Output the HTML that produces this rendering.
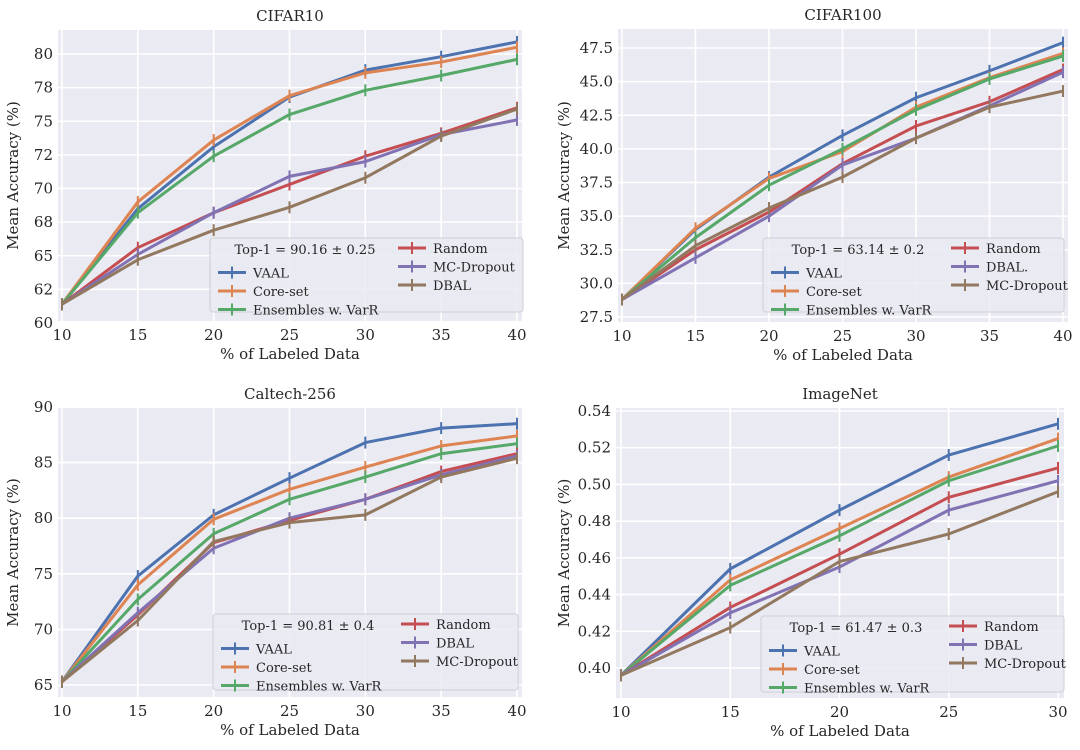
<!DOCTYPE html>
<html><head><meta charset="utf-8">
<style>
html,body{margin:0;padding:0;background:#fff;width:1080px;height:750px;overflow:hidden}
svg{display:block;font-family:"DejaVu Serif","Liberation Serif",serif}
</style></head>
<body>
<svg id="fig" width="1080" height="750" viewBox="0 0 1080 750" xmlns="http://www.w3.org/2000/svg"></svg>
<script>
const seriesColors = ["#4c72b0","#dd8452","#55a868","#c44e52","#8172b3","#937860"];
// CIFAR10
const cifar10X = [10,15,20,25,30,35,40];
const cifar10Names = ["VAAL","Core-set","Ensembles w. VarR","Random","MC-Dropout","DBAL"];
const cifar10VAAL = [61.4,68.5,73.1,76.8,78.8,79.8,80.9];
const cifar10Core = [61.4,69.0,73.6,76.9,78.6,79.4,80.5];
const cifar10Ens = [61.4,68.2,72.4,75.5,77.3,78.4,79.6];
const cifar10Random = [61.4,65.6,68.2,70.3,72.4,74.1,76.0];
const cifar10MC = [61.4,65.1,68.2,70.9,72.0,74.0,75.1];
const cifar10DBAL = [61.4,64.7,66.9,68.6,70.8,73.9,75.9];
const cifar10YTicks = [60,62.5,65,67.5,70,72.5,75,77.5,80];
const cifar10YLabels = ["60","62","65","68","70","72","75","78","80"];
// CIFAR100
const cifar100X = [10,15,20,25,30,35,40];
const cifar100Names = ["VAAL","Core-set","Ensembles w. VarR","Random","DBAL.","MC-Dropout"];
const cifar100VAAL = [28.8,34.0,37.9,41.0,43.8,45.8,47.9];
const cifar100Core = [28.8,34.1,37.8,39.8,43.1,45.3,47.1];
const cifar100Ens = [28.8,33.4,37.3,40.0,42.9,45.2,46.9];
const cifar100Random = [28.8,32.5,35.3,38.9,41.7,43.5,45.9];
const cifar100DBAL = [28.8,31.9,35.0,38.8,40.8,43.2,45.7];
const cifar100MC = [28.8,32.8,35.6,37.9,40.8,43.1,44.3];
const cifar100YTicks = [27.5,30,32.5,35,37.5,40,42.5,45,47.5];
const cifar100YLabels = ["27.5","30.0","32.5","35.0","37.5","40.0","42.5","45.0","47.5"];
// Caltech-256
const caltechX = [10,15,20,25,30,35,40];
const caltechNames = ["VAAL","Core-set","Ensembles w. VarR","Random","DBAL","MC-Dropout"];
const caltechVAAL = [65.3,74.8,80.3,83.6,86.8,88.1,88.5];
const caltechCore = [65.3,74.0,79.9,82.6,84.6,86.5,87.4];
const caltechEns = [65.3,72.7,78.6,81.7,83.7,85.8,86.7];
const caltechRandom = [65.3,71.3,77.8,79.8,81.7,84.2,85.8];
const caltechDBAL = [65.3,71.5,77.3,80.0,81.7,83.9,85.6];
const caltechMC = [65.3,70.8,77.9,79.6,80.3,83.7,85.4];
const caltechYTicks = [65,70,75,80,85,90];
const caltechYLabels = ["65","70","75","80","85","90"];
// ImageNet
const imagenetX = [10,15,20,25,30];
const imagenetNames = ["VAAL","Core-set","Ensembles w. VarR","Random","DBAL","MC-Dropout"];
const imagenetVAAL = [0.396,0.454,0.486,0.516,0.533];
const imagenetCore = [0.396,0.448,0.476,0.504,0.525];
const imagenetEns = [0.396,0.445,0.472,0.502,0.521];
const imagenetRandom = [0.396,0.433,0.462,0.493,0.509];
const imagenetDBAL = [0.396,0.430,0.455,0.486,0.502];
const imagenetMC = [0.396,0.422,0.458,0.473,0.496];
const imagenetYTicks = [0.40,0.42,0.44,0.46,0.48,0.50,0.52,0.54];
const imagenetYLabels = ["0.40","0.42","0.44","0.46","0.48","0.50","0.52","0.54"];

const NS="http://www.w3.org/2000/svg";
const fig=document.getElementById('fig');
function mk(tag,attrs,parent){const e=document.createElementNS(NS,tag);for(const k in attrs)e.setAttribute(k,attrs[k]);(parent||fig).appendChild(e);return e;}

function panel(cfg){
  const g=mk('g',{});
  
  
  const sx=v=>cfg.xa[1]+(v-cfg.xa[0])*(cfg.xb[1]-cfg.xa[1])/(cfg.xb[0]-cfg.xa[0]);
  const sy=v=>cfg.ya[1]+(v-cfg.ya[0])*(cfg.yb[1]-cfg.ya[1])/(cfg.yb[0]-cfg.ya[0]);
  const [L,R,T,B]=cfg.rect;
  const bg=mk('rect',{x:L,y:T,width:R-L,height:B-T,fill:'#eaeaf2'},g);
  
  
  cfg.x.forEach(v=>{
    mk('line',{x1:sx(v),x2:sx(v),y1:T,y2:B,stroke:'#fff','stroke-width':1.6},g);
    const t=mk('text',{x:sx(v),y:B+19,'text-anchor':'middle','font-size':15,fill:'#262626'},g);
    t.textContent=v;
    
    
  });
  cfg.yt.forEach((v,i)=>{
    mk('line',{x1:L,x2:R,y1:sy(v),y2:sy(v),stroke:'#fff','stroke-width':1.6},g);
    const t=mk('text',{x:L-5,y:sy(v)+5,'text-anchor':'end','font-size':15,fill:'#262626'},g);
    t.textContent=cfg.yl[i];
    
    
  });
  cfg.series.forEach((s,si)=>{
    const col=seriesColors[si];
    const pts=s.map((v,i)=>sx(cfg.x[i])+','+sy(v)).join(' ');
    const pl=mk('polyline',{points:pts,fill:'none',stroke:col,'stroke-width':3,'stroke-linejoin':'round'},g);
    
    
    s.forEach((v,i)=>{
      mk('line',{x1:sx(cfg.x[i]),x2:sx(cfg.x[i]),y1:sy(v)-6,y2:sy(v)+6,stroke:col,'stroke-width':2},g);
    });
  });
  const tt=mk('text',{x:(L+R)/2,y:T-9,'text-anchor':'middle','font-size':15,'font-weight':500,fill:'#262626'},g);
  tt.textContent=cfg.title;
  
  
  const xl=mk('text',{x:(L+R)/2,y:B+38,'text-anchor':'middle','font-size':15,fill:'#262626'},g);
  xl.textContent='% of Labeled Data';
  
  
  const yc=(T+B)/2, yx=cfg.ylabX;
  const yl=mk('text',{x:yx,y:yc,'text-anchor':'middle','font-size':15,fill:'#262626',transform:'rotate(-90 '+yx+' '+yc+')'},g);
  yl.textContent='Mean Accuracy (%)';
  
  
  // legend
  const [lx,ly,lw,lh]=cfg.leg;
  const lg=mk('g',{},g);
  
  
  mk('rect',{x:lx,y:ly,width:lw,height:lh,fill:'#eaeaf2','fill-opacity':0.85,stroke:'#cfcfd6',rx:3},lg);
  const ht=mk('text',{x:lx+95,y:ly+16,'text-anchor':'middle','font-size':13,fill:'#262626'},lg);
  ht.textContent=cfg.top1;
  cfg.names.forEach((n,i)=>{
    const col=i<3?0:1, row=i<3?i+1:i-3;
    const ex=lx+8+col*180, ey=ly+16+row*18.5;
    const yy=col===0?ey:ly+10+row*18.5;
    const e=mk('g',{},lg);
    
    
    mk('line',{x1:ex,x2:ex+28,y1:yy,y2:yy,stroke:seriesColors[i],'stroke-width':3},e);
    mk('line',{x1:ex+14,x2:ex+14,y1:yy-6,y2:yy+6,stroke:seriesColors[i],'stroke-width':2},e);
    const t=mk('text',{x:ex+35,y:yy+5,'font-size':13,fill:'#262626'},e);
    t.textContent=n;
  });
}

panel({key:'cifar10',title:'CIFAR10',x:cifar10X,names:cifar10Names,series:[cifar10VAAL,cifar10Core,cifar10Ens,cifar10Random,cifar10MC,cifar10DBAL],
  yt:cifar10YTicks,yl:cifar10YLabels,xa:[10,62],xb:[40,517],ya:[60,323],yb:[80,54],rect:[58,522,30,321],ylabX:18,
  leg:[210,238,313,74],top1:'Top-1 = 90.16 ± 0.25'});
panel({key:'cifar100',title:'CIFAR100',x:cifar100X,names:cifar100Names,series:[cifar100VAAL,cifar100Core,cifar100Ens,cifar100Random,cifar100DBAL,cifar100MC],
  yt:cifar100YTicks,yl:cifar100YLabels,xa:[10,622],xb:[40,1063],ya:[27.5,317],yb:[47.5,48],rect:[618,1068,29,322],ylabX:569,
  leg:[763,238,301,74],top1:'Top-1 = 63.14 ± 0.2'});
panel({key:'caltech',title:'Caltech-256',x:caltechX,names:caltechNames,series:[caltechVAAL,caltechCore,caltechEns,caltechRandom,caltechDBAL,caltechMC],
  yt:caltechYTicks,yl:caltechYLabels,xa:[10,62],xb:[40,517],ya:[65,685],yb:[90,407],rect:[58,522,408,697],ylabX:18,
  leg:[213,614,305,76],top1:'Top-1 = 90.81 ± 0.4'});
panel({key:'imagenet',title:'ImageNet',x:imagenetX,names:imagenetNames,series:[imagenetVAAL,imagenetCore,imagenetEns,imagenetRandom,imagenetDBAL,imagenetMC],
  yt:imagenetYTicks,yl:imagenetYLabels,xa:[10,621],xb:[30,1058],ya:[0.40,668],yb:[0.54,411],rect:[616,1064,408,698],ylabX:569,
  leg:[761,616,303,76],top1:'Top-1  = 61.47 ± 0.3'});
</script>
</body></html>
